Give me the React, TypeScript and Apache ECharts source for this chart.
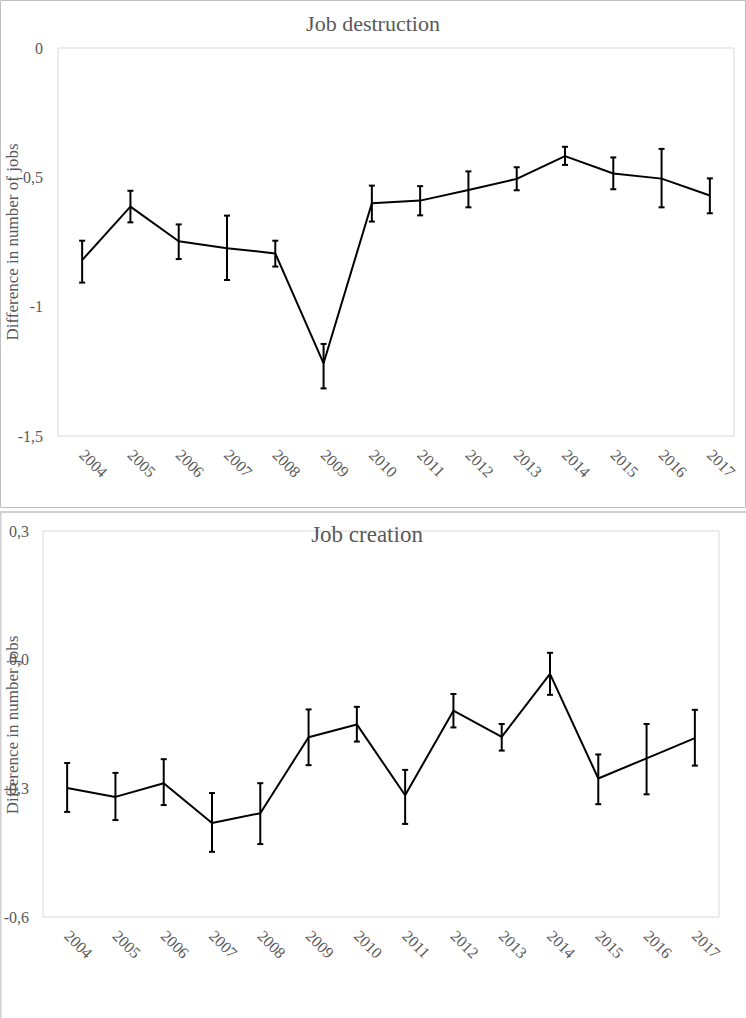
import React, { useEffect, useRef } from 'react';
import * as echarts from 'echarts';

const years = ['2004', '2005', '2006', '2007', '2008', '2009', '2010', '2011', '2012', '2013', '2014', '2015', '2016', '2017'];

const destructionValues = [-0.820, -0.613, -0.747, -0.774, -0.794, -1.219, -0.600, -0.590, -0.549, -0.506, -0.418, -0.485, -0.505, -0.570];
const destructionLow = [-0.907, -0.674, -0.816, -0.897, -0.845, -1.316, -0.671, -0.647, -0.616, -0.550, -0.452, -0.546, -0.616, -0.639];
const destructionHigh = [-0.745, -0.552, -0.682, -0.648, -0.745, -1.144, -0.532, -0.534, -0.477, -0.461, -0.382, -0.423, -0.390, -0.504];

const creationValues = [-0.299, -0.320, -0.288, -0.381, -0.358, -0.181, -0.151, -0.316, -0.119, -0.180, -0.033, -0.277, -0.230, -0.183];
const creationLow = [-0.355, -0.374, -0.339, -0.448, -0.430, -0.246, -0.191, -0.383, -0.158, -0.212, -0.082, -0.337, -0.314, -0.247];
const creationHigh = [-0.241, -0.264, -0.232, -0.311, -0.288, -0.116, -0.110, -0.257, -0.080, -0.150, 0.016, -0.221, -0.150, -0.117];

const destructionAxis = { min: -1.5, max: 0, interval: 0.5 };
const creationAxis = { min: -0.6, max: 0.3, interval: 0.3 };

const FONT = 'Liberation Serif';
const TEXT = '#595959';

function errorBarItem(params: any, api: any) {
  const x = api.value(0);
  const pLo = api.coord([x, api.value(1)]);
  const pHi = api.coord([x, api.value(2)]);
  const hw = 3;
  const style = { stroke: '#000', lineWidth: 2 };
  return {
    type: 'group',
    children: [
      { type: 'line', shape: { x1: pLo[0], y1: pLo[1], x2: pHi[0], y2: pHi[1] }, style },
      { type: 'line', shape: { x1: pLo[0] - hw, y1: pLo[1], x2: pLo[0] + hw, y2: pLo[1] }, style },
      { type: 'line', shape: { x1: pHi[0] - hw, y1: pHi[1], x2: pHi[0] + hw, y2: pHi[1] }, style },
    ],
  };
}

export default function App() {
  const ref = useRef<HTMLDivElement>(null);
  useEffect(() => {
    if (!ref.current) return;
    const chart = echarts.init(ref.current, undefined, { renderer: 'svg' });
    const xAxisBase = {
      type: 'category',
      data: years,
      boundaryGap: true,
      axisLine: { show: false },
      axisTick: { show: false },
      axisLabel: { rotate: -45, margin: 16, color: TEXT, fontSize: 16, fontFamily: FONT, interval: 0 },
    };
    const yAxisBase = {
      type: 'value',
      splitLine: { show: false },
      axisLine: { show: false },
      axisTick: { show: false },
    };
    chart.setOption({
      animation: false,
      backgroundColor: '#fff',
      textStyle: { fontFamily: FONT },
      grid: [
        { left: 58, top: 48, width: 676, height: 388, show: true, borderColor: '#d9d9d9', borderWidth: 1 },
        { left: 43, top: 531, width: 676, height: 386, show: true, borderColor: '#d9d9d9', borderWidth: 1 },
      ],
      xAxis: [
        { ...xAxisBase, gridIndex: 0 },
        { ...xAxisBase, gridIndex: 1 },
      ],
      yAxis: [
        {
          ...yAxisBase,
          gridIndex: 0,
          ...destructionAxis,
          axisLabel: {
            margin: 15, color: TEXT, fontSize: 16, fontFamily: FONT,
            formatter: (v: number) => String(Math.round(v * 10) / 10).replace('.', ','),
          },
        },
        {
          ...yAxisBase,
          gridIndex: 1,
          ...creationAxis,
          axisLabel: {
            margin: 14, color: TEXT, fontSize: 16, fontFamily: FONT,
            formatter: (v: number) => (Math.abs(v) < 1e-9 ? 0 : v).toFixed(1).replace('.', ','),
          },
        },
      ],
      graphic: [
        { type: 'rect', shape: { x: 0.5, y: 0.5, width: 745, height: 507 }, style: { fill: 'none', stroke: '#bfbfbf', lineWidth: 1 }, silent: true },
        { type: 'rect', shape: { x: 0.5, y: 512, width: 760, height: 520 }, style: { fill: 'none', stroke: '#d0d0d0', lineWidth: 2 }, silent: true },
        { type: 'text', x: 373, y: 23, style: { text: 'Job destruction', fill: TEXT, fontSize: 22, fontFamily: FONT, align: 'center', verticalAlign: 'middle' } },
        { type: 'text', x: 367, y: 534, style: { text: 'Job creation', fill: TEXT, fontSize: 23, fontFamily: FONT, align: 'center', verticalAlign: 'middle' } },
        { type: 'text', x: 12, y: 242, rotation: Math.PI / 2, style: { text: 'Difference in number of jobs', fill: TEXT, fontSize: 17, fontFamily: FONT, align: 'center', verticalAlign: 'middle' } },
        { type: 'text', x: 12, y: 725, rotation: Math.PI / 2, style: { text: 'Difference in number jobs', fill: TEXT, fontSize: 17, fontFamily: FONT, align: 'center', verticalAlign: 'middle' } },
      ],
      series: [
        {
          type: 'line', xAxisIndex: 0, yAxisIndex: 0, data: destructionValues,
          symbol: 'none', lineStyle: { color: '#000', width: 2 }, z: 3,
        },
        {
          type: 'custom', xAxisIndex: 0, yAxisIndex: 0,
          data: years.map((_, i) => [i, destructionLow[i], destructionHigh[i]]),
          encode: { x: 0, y: [1, 2] }, renderItem: errorBarItem, z: 4,
        },
        {
          type: 'line', xAxisIndex: 1, yAxisIndex: 1, data: creationValues,
          symbol: 'none', lineStyle: { color: '#000', width: 2 }, z: 3,
        },
        {
          type: 'custom', xAxisIndex: 1, yAxisIndex: 1,
          data: years.map((_, i) => [i, creationLow[i], creationHigh[i]]),
          encode: { x: 0, y: [1, 2] }, renderItem: errorBarItem, z: 4,
        },
      ],
    });
    return () => chart.dispose();
  }, []);
  return <div ref={ref} style={{ position: 'absolute', left: 0, top: 0, width: 746, height: 1018 }} />;
}
